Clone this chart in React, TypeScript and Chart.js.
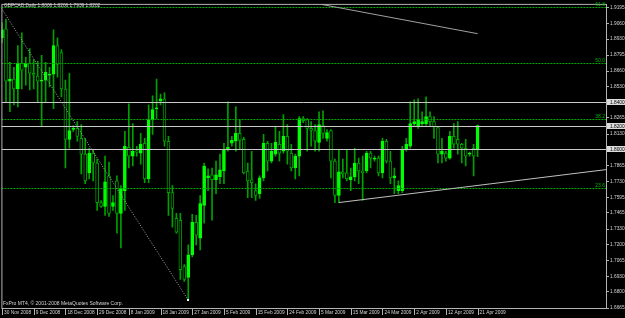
import React, { useEffect, useRef } from "react";
import { Chart, registerables } from "chart.js";
Chart.register(...registerables);

// ---- data (GBPCAD daily, index 0 = 30 Nov 2008) ----
const opens = [
  1.8941, 1.9016, 1.8576, 1.8592, 1.8509, 1.8725, 1.8692, 1.8725, 1.8642, 1.8617,
  1.8576, 1.8584, 1.8625, 1.8634, 1.8875, 1.8816, 1.8509, 1.8085, 1.8168, 1.8177,
  1.8094, 1.7961, 1.7803, 1.7969, 1.7886, 1.7553, 1.7520, 1.7778, 1.7520, 1.7736,
  1.7462, 1.7653, 1.8019, 1.7944, 1.7985, 1.7969, 1.8052, 1.7753, 1.8251, 1.8343,
  1.8409, 1.8426, 1.8069, 1.7636, 1.7420, 1.7404, 1.7013, 1.6922, 1.7113, 1.7387,
  1.7254, 1.7528, 1.7761, 1.7786, 1.7745, 1.7769, 1.7819, 1.8002, 1.8052, 1.8069,
  1.8135, 1.8085, 1.7819, 1.7745, 1.7653, 1.7628, 1.7761, 1.8052, 1.7902, 1.7961,
  1.8044, 1.7985, 1.8110, 1.7969, 1.7844, 1.7944, 1.8260, 1.8251, 1.8177, 1.8160,
  1.8060, 1.8202, 1.8094, 1.8160, 1.7902, 1.7612, 1.7811, 1.7803, 1.7745, 1.7769,
  1.7886, 1.7819, 1.7819, 1.7969, 1.7919, 1.7927, 1.7803, 1.8069, 1.7902, 1.7761,
  1.7653, 1.7653, 1.8002, 1.8027, 1.8218, 1.8193, 1.8218, 1.8218, 1.8276, 1.8235,
  1.8185, 1.7961, 1.7969, 1.7927, 1.8110, 1.8085, 1.8044, 1.8010, 1.7961, 1.8010,
  1.8006,
];
const highs = [
  1.9066, 1.9099, 1.8733, 1.8692, 1.8875, 1.8983, 1.8775, 1.8850, 1.8758, 1.8742,
  1.8792, 1.8733, 1.8692, 1.9008, 1.8941, 1.8841, 1.8584, 1.8642, 1.8202, 1.8235,
  1.8210, 1.8094, 1.8010, 1.8002, 1.7919, 1.7570, 1.7944, 1.7894, 1.7612, 1.7778,
  1.7695, 1.8152, 1.8384, 1.8218, 1.8027, 1.8135, 1.8094, 1.8376, 1.8451, 1.8592,
  1.8467, 1.8476, 1.8110, 1.7695, 1.7462, 1.7462, 1.7030, 1.7196, 1.7454, 1.7445,
  1.7612, 1.7886, 1.7836, 1.7844, 1.7902, 1.7961, 1.8052, 1.8401, 1.8110, 1.8359,
  1.8251, 1.8102, 1.7886, 1.7985, 1.7711, 1.7778, 1.8127, 1.8069, 1.8052, 1.8193,
  1.8152, 1.8293, 1.8210, 1.8044, 1.7961, 1.8276, 1.8276, 1.8260, 1.8235, 1.8210,
  1.8318, 1.8326, 1.8168, 1.8168, 1.7919, 1.8002, 1.7919, 1.8002, 1.7844, 1.8010,
  1.7927, 1.7944, 1.7985, 1.7985, 1.7944, 1.7944, 1.8094, 1.8085, 1.7985, 1.7844,
  1.7736, 1.8027, 1.8094, 1.8401, 1.8418, 1.8426, 1.8318, 1.8443, 1.8318, 1.8276,
  1.8193, 1.8094, 1.7985, 1.8152, 1.8218, 1.8235, 1.8052, 1.8085, 1.7977, 1.8044,
  1.8206,
];
const lows = [
  1.8900, 1.8401, 1.8318, 1.8376, 1.8359, 1.8509, 1.8542, 1.8501, 1.8509, 1.8401,
  1.8193, 1.8401, 1.8526, 1.8343, 1.8609, 1.8443, 1.7844, 1.8010, 1.8152, 1.8069,
  1.7794, 1.7711, 1.7753, 1.7736, 1.7487, 1.7512, 1.7445, 1.7437, 1.7487, 1.7296,
  1.7171, 1.7487, 1.7844, 1.7861, 1.7944, 1.7877, 1.7720, 1.7720, 1.8127, 1.8260,
  1.8376, 1.8027, 1.7445, 1.7346, 1.7296, 1.6905, 1.6889, 1.6731, 1.7096, 1.7196,
  1.7154, 1.7379, 1.7653, 1.7404, 1.7628, 1.7711, 1.7711, 1.7985, 1.8027, 1.7985,
  1.8002, 1.7794, 1.7595, 1.7595, 1.7570, 1.7587, 1.7736, 1.7819, 1.7886, 1.7944,
  1.7902, 1.7969, 1.7877, 1.7819, 1.7753, 1.7778, 1.8226, 1.7985, 1.8027, 1.7985,
  1.7985, 1.8094, 1.8069, 1.7761, 1.7553, 1.7553, 1.7761, 1.7736, 1.7653, 1.7736,
  1.7711, 1.7570, 1.7803, 1.7844, 1.7902, 1.7778, 1.7761, 1.7886, 1.7711, 1.7628,
  1.7628, 1.7636, 1.7985, 1.8010, 1.8193, 1.8177, 1.8202, 1.8202, 1.8193, 1.8094,
  1.7886, 1.7886, 1.7902, 1.7919, 1.8010, 1.7961, 1.7886, 1.7861, 1.7944, 1.7778,
  1.7939,
];
const closes = [
  1.9008, 1.8576, 1.8592, 1.8509, 1.8725, 1.8667, 1.8725, 1.8642, 1.8625, 1.8576,
  1.8584, 1.8650, 1.8634, 1.8875, 1.8717, 1.8509, 1.8085, 1.8160, 1.8177, 1.8110,
  1.7961, 1.7736, 1.7969, 1.7886, 1.7553, 1.7520, 1.7728, 1.7462, 1.7553, 1.7462,
  1.7670, 1.8027, 1.7944, 1.7985, 1.7977, 1.8044, 1.7753, 1.8251, 1.8335, 1.8351,
  1.8426, 1.8069, 1.7636, 1.7504, 1.7304, 1.6988, 1.6905, 1.7113, 1.7387, 1.7279,
  1.7545, 1.7861, 1.7778, 1.7745, 1.7786, 1.7828, 1.8002, 1.8019, 1.8077, 1.8135,
  1.8077, 1.7803, 1.7736, 1.7720, 1.7612, 1.7761, 1.8052, 1.7902, 1.7985, 1.8060,
  1.7969, 1.8110, 1.7985, 1.7844, 1.7944, 1.8260, 1.8243, 1.8177, 1.8160, 1.8069,
  1.8210, 1.8135, 1.8143, 1.7902, 1.7612, 1.7811, 1.7794, 1.7753, 1.7769, 1.7886,
  1.7819, 1.7803, 1.7969, 1.7927, 1.7927, 1.7803, 1.8069, 1.7902, 1.7761, 1.7778,
  1.7695, 1.8002, 1.8044, 1.8218, 1.8235, 1.8251, 1.8235, 1.8276, 1.8235, 1.8193,
  1.7961, 1.7985, 1.7927, 1.8110, 1.8044, 1.8044, 1.8010, 1.7944, 1.7969, 1.7944,
  1.8202,
];

const xTickLabels = [
  "30 Nov 2008", "9 Dec 2008", "18 Dec 2008", "29 Dec 2008", "8 Jan 2009", "18 Jan 2009",
  "27 Jan 2009", "5 Feb 2009", "15 Feb 2009", "24 Feb 2009", "5 Mar 2009", "15 Mar 2009",
  "24 Mar 2009", "2 Apr 2009", "12 Apr 2009", "21 Apr 2009",
];
const xTickStep = 8;
const yTickValues = [
  1.9195, 1.906, 1.893, 1.8795, 1.866, 1.853, 1.84, 1.8265, 1.813, 1.8,
  1.7865, 1.773, 1.7595, 1.7465, 1.733, 1.72, 1.7065, 1.693, 1.68, 1.6665,
];
const yMin = 1.6665;
const yMax = 1.9226;
const xMin = -0.15;
const xMax = 152.4;

const hLines = [1.84, 1.82, 1.8];
const fibHigh = 2.0719;
const fibLow = 1.6731;
const fibHighIndex = -29.5;
const fibLowIndex = 47;
const fibRatios = [0.618, 0.5, 0.382, 0.236];
const fibLabels = ["61.8", "50.0", "38.2", "23.6"];
const trendTop = [[80.5, 1.9222], [120, 1.8975]];
const trendBottom = [[85, 1.7553], [120, 1.7697]];
const titleText = "GBPCAD,Daily 1.8006 1.8206 1.7939 1.8202";
const copyrightText = "FxPro MT4, \u00A9 2001-2008 MetaQuotes Software Corp.";

const FONT = '"Liberation Sans", Arial, sans-serif';
const TEXT = "#d4d4d4";
const AXIS = "#b4b4b4";
const BULL = "#00ff00";
const WICK = "#00a000";

const overlayPlugin = {
  id: "mt4Overlay",
  beforeDraw(chart: any) {
    const { ctx, width, height } = chart;
    ctx.save();
    ctx.fillStyle = "#000000";
    ctx.fillRect(0, 0, width, height);
    ctx.restore();
  },
  afterDatasetsDraw(chart: any) {
    const { ctx, chartArea: a } = chart;
    const xs = chart.scales.x;
    const ys = chart.scales.y;
    const px = (v: number) => xs.getPixelForValue(v);
    const py = (v: number) => ys.getPixelForValue(v);
    const snap = (v: number) => Math.round(v) + 0.5;
    const seg = (x0: number, y0: number, x1: number, y1: number) => {
      ctx.beginPath();
      ctx.moveTo(px(x0), py(y0));
      ctx.lineTo(px(x1), py(y1));
      ctx.stroke();
    };
    ctx.save();
    ctx.beginPath();
    ctx.rect(a.left, a.top, a.right - a.left, a.bottom - a.top);
    ctx.clip();
    ctx.lineWidth = 1;

    ctx.strokeStyle = "#c8c8c8";
    hLines.forEach((v) => {
      const y = snap(py(v));
      ctx.beginPath();
      ctx.moveTo(a.left, y);
      ctx.lineTo(a.right, y);
      ctx.stroke();
    });

    ctx.strokeStyle = "#00a800";
    ctx.setLineDash([2, 1]);
    fibRatios.forEach((r) => {
      const y = snap(py(fibLow + r * (fibHigh - fibLow)));
      ctx.beginPath();
      ctx.moveTo(a.left, y);
      ctx.lineTo(a.right, y);
      ctx.stroke();
    });

    ctx.strokeStyle = "#a8a8a8";
    ctx.setLineDash([1, 1.6]);
    seg(fibHighIndex, fibHigh, fibLowIndex, fibLow);
    ctx.setLineDash([]);

    ctx.strokeStyle = "#a0a0a0";
    seg(trendTop[0][0], trendTop[0][1], trendTop[1][0], trendTop[1][1]);

    const [b0, b1] = trendBottom;
    const slope = (b1[1] - b0[1]) / (b1[0] - b0[0]);
    ctx.strokeStyle = "#c0c0c0";
    seg(b0[0], b0[1], xMax, b0[1] + slope * (xMax - b0[0]));

    ctx.fillStyle = "#ffffff";
    ctx.fillRect(Math.round(px(fibLowIndex)) - 1, Math.round(py(fibLow)) - 1, 2, 2);
    ctx.restore();
  },
  afterDraw(chart: any) {
    const { ctx, chartArea: a, width } = chart;
    const xs = chart.scales.x;
    const ys = chart.scales.y;
    ctx.save();
    ctx.lineWidth = 1;
    ctx.strokeStyle = AXIS;
    ctx.strokeRect(a.left + 0.5, a.top + 0.5, a.right - a.left, a.bottom - a.top);

    xTickLabels.forEach((_, k) => {
      const x = Math.round(xs.getPixelForValue(k * xTickStep)) + 0.5;
      ctx.beginPath();
      ctx.moveTo(x, a.bottom + 1);
      ctx.lineTo(x, a.bottom + 7);
      ctx.stroke();
    });

    // fib level labels
    ctx.fillStyle = "#00b400";
    ctx.font = `5px ${FONT}`;
    ctx.textAlign = "right";
    ctx.textBaseline = "bottom";
    fibRatios.forEach((r, k) => {
      const y = ys.getPixelForValue(fibLow + r * (fibHigh - fibLow));
      ctx.fillText(fibLabels[k], a.right - 1, y - 0.3);
    });

    // highlighted price labels for the horizontal lines
    ctx.font = `4.8px ${FONT}`;
    ctx.textAlign = "left";
    ctx.textBaseline = "middle";
    hLines.forEach((v) => {
      const y = Math.round(ys.getPixelForValue(v));
      ctx.fillStyle = "#dcdcdc";
      ctx.fillRect(a.right + 1, y - 3, width - a.right - 1, 6);
      ctx.fillStyle = "#000000";
      ctx.fillText(v.toFixed(4), a.right + 4, y + 0.5);
    });

    ctx.fillStyle = TEXT;
    ctx.font = `4.8px ${FONT}`;
    ctx.textBaseline = "middle";
    ctx.fillText(titleText, 4, 5.5);
    ctx.font = `5px ${FONT}`;
    ctx.fillText(copyrightText, 3, 304);
    ctx.restore();
  },
};

export default function App() {
  const ref = useRef<HTMLCanvasElement | null>(null);
  useEffect(() => {
    document.body.style.margin = "0";
    document.body.style.background = "#000";
    if (!ref.current) return;
    const idx = opens.map((_, i) => i);
    const bull = idx.map((i) => closes[i] >= opens[i]);
    const chart = new Chart(ref.current, {
      type: "bar",
      data: {
        datasets: [
          {
            data: idx.map((i) => ({ x: i, y: [Math.min(opens[i], closes[i]), Math.max(opens[i], closes[i])] })) as any,
            backgroundColor: bull.map((b) => (b ? BULL : "#000000")),
            borderColor: bull.map((b) => (b ? BULL : WICK)),
            borderWidth: 1,
            borderSkipped: false,
            barThickness: 3,
            minBarLength: 1,
            grouped: false,
          } as any,
          {
            data: idx.map((i) => ({ x: i, y: [lows[i], highs[i]] })) as any,
            backgroundColor: WICK,
            borderWidth: 0,
            barThickness: 1,
            grouped: false,
          } as any,
        ],
      },
      options: {
        animation: false,
        responsive: false,
        events: [],
        layout: { padding: { left: 1, top: 1, right: 0, bottom: 0 } },
        plugins: { legend: { display: false }, tooltip: { enabled: false } },
        scales: {
          x: {
            type: "linear",
            min: xMin,
            max: xMax,
            offset: false,
            grid: { display: false, drawTicks: false },
            border: { display: false },
            afterBuildTicks: (s: any) => {
              s.ticks = xTickLabels.map((_, k) => ({ value: k * xTickStep }));
            },
            afterFit: (s: any) => {
              s.height = 10;
            },
            ticks: {
              autoSkip: false,
              maxRotation: 0,
              minRotation: 0,
              align: "start",
              labelOffset: 2,
              padding: 2,
              color: TEXT,
              font: { family: FONT, size: 4.8 },
              callback: (v: any) => xTickLabels[Math.round(Number(v) / xTickStep)] ?? "",
            },
          } as any,
          y: {
            position: "right",
            min: yMin,
            max: yMax,
            grid: { drawOnChartArea: false, tickLength: 3, color: AXIS },
            border: { display: false },
            afterBuildTicks: (s: any) => {
              s.ticks = yTickValues.map((v) => ({ value: v }));
            },
            afterFit: (s: any) => {
              s.width = 19;
            },
            ticks: {
              autoSkip: false,
              padding: 1,
              color: TEXT,
              font: { family: FONT, size: 4.8 },
              callback: (v: any) => Number(v).toFixed(4),
            },
          } as any,
        },
      },
      plugins: [overlayPlugin],
    });
    return () => chart.destroy();
  }, []);
  return (
    <div style={{ width: 625, height: 318, background: "#000" }}>
      <canvas ref={ref} width={625} height={318} style={{ display: "block" }} />
    </div>
  );
}
